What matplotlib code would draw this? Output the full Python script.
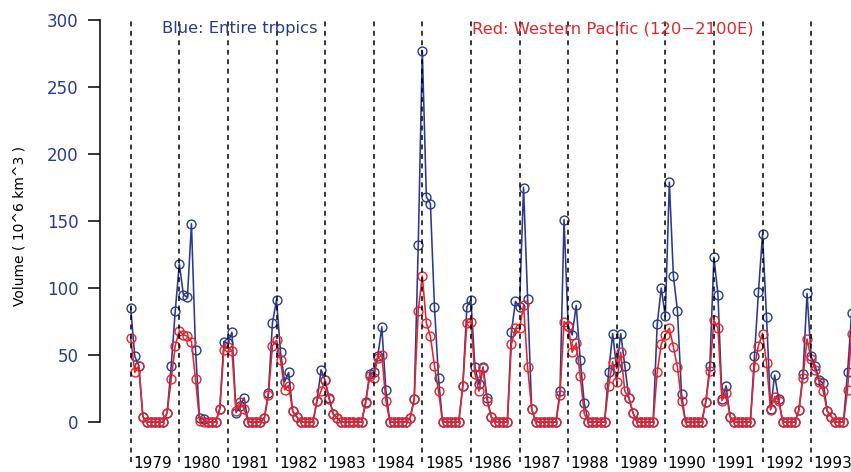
import matplotlib

matplotlib.use("Agg")
import matplotlib.pyplot as plt  # noqa: E402
import numpy as np  # noqa: E402

START_YEAR = 1979

# monthly volume (10^6 km^3), Jan 1979 onwards
blue_tropics = [
    85, 49, 42, 4, 0, 0, 0, 0, 0, 7, 42, 83,
    118, 95, 93, 148, 54, 3, 2, 0, 0, 0, 10, 60,
    59, 67, 7, 12, 18, 0, 0, 0, 0, 3, 22, 74,
    91, 52, 30, 37, 8, 4, 0, 0, 0, 0, 16, 39,
    31, 18, 6, 3, 0, 0, 0, 0, 0, 0, 15, 36,
    37, 49, 71, 24, 0, 0, 0, 0, 0, 3, 17, 132,
    277, 168, 163, 86, 33, 0, 0, 0, 0, 0, 27, 86,
    91, 41, 28, 41, 18, 4, 0, 0, 0, 0, 67, 90,
    86, 175, 92, 10, 0, 0, 0, 0, 0, 0, 23, 151,
    72, 65, 87, 46, 14, 0, 0, 0, 0, 0, 37, 66,
    40, 66, 42, 18, 7, 0, 0, 0, 0, 0, 73, 100,
    79, 179, 109, 83, 21, 0, 0, 0, 0, 0, 15, 42,
    123, 95, 17, 27, 4, 0, 0, 0, 0, 0, 49, 97,
    140, 78, 10, 35, 17, 0, 0, 0, 0, 9, 36, 96,
    49, 42, 31, 29, 8, 4, 0, 0, 0, 37, 81,
]
red_wpac = [
    63, 37, 42, 4, 0, 0, 0, 0, 0, 7, 32, 57,
    68, 65, 64, 60, 32, 1, 0, 0, 0, 0, 10, 54,
    56, 53, 8, 15, 10, 0, 0, 0, 0, 3, 20, 57,
    61, 46, 24, 27, 8, 4, 0, 0, 0, 0, 16, 23,
    31, 17, 6, 3, 0, 0, 0, 0, 0, 0, 14, 34,
    33, 48, 50, 16, 0, 0, 0, 0, 0, 3, 17, 83,
    109, 74, 64, 42, 23, 0, 0, 0, 0, 0, 27, 74,
    75, 36, 23, 40, 16, 4, 0, 0, 0, 0, 58, 70,
    70, 87, 41, 10, 0, 0, 0, 0, 0, 0, 20, 75,
    72, 52, 59, 34, 6, 0, 0, 0, 0, 0, 27, 45,
    30, 52, 23, 18, 7, 0, 0, 0, 0, 0, 37, 58,
    65, 70, 56, 41, 16, 0, 0, 0, 0, 0, 15, 38,
    76, 70, 16, 22, 4, 0, 0, 0, 0, 0, 41, 57,
    66, 44, 9, 19, 16, 0, 0, 0, 0, 9, 33, 62,
    47, 39, 30, 23, 8, 4, 0, 0, 0, 24, 66,
]
years = list(range(1979, 1994))
yticks = [0, 50, 100, 150, 200, 250, 300]

BLUE = "#2a3a8f"
RED = "#e2252e"

t = START_YEAR + np.arange(len(blue_tropics)) / 12

fig = plt.figure(figsize=(8.51, 4.72), dpi=100)
ax = fig.add_axes([100 / 851, 0, 751 / 851, 1])
ax.set_xlim(1978.368, 1993.821)
ax.set_ylim(-37.31, 314.93)

mk = dict(marker="o", ms=6.4, mfc="none", mew=1.0, lw=1.15)
ax.plot(t, blue_tropics, color=BLUE, **mk)
ax.plot(t, red_wpac, color=RED, **mk)
ax.vlines(years, -30, 300, colors="k", linestyles=(0, (3.2, 3.0)), lw=1.1, zorder=3)

for y in years:
    ax.text(y + 0.45, -31, str(y), ha="center", va="center", fontsize=11)

ax.text(1981.25, 293.3, "Blue: Entire tropics", color=BLUE, fontsize=11.8,
        ha="center", va="center")
ax.text(1988.93, 293.3, "Red: Western Pacific (120\u22122100E)", color=RED, fontsize=11.8,
        ha="center", va="center")

for s in ("top", "right", "bottom"):
    ax.spines[s].set_visible(False)
ax.spines["left"].set_bounds(0, 300)
ax.spines["left"].set_linewidth(1.1)
ax.set_xticks([])
ax.set_yticks(yticks)
ax.tick_params(axis="y", length=8.6, width=1.1, pad=7, labelsize=12, labelcolor=BLUE)

fig.text(20 / 851, 1 - 226.5 / 472, "Volume ( 10^6 km^3 )", rotation=90,
         ha="center", va="center", fontsize=10)

fig.savefig("out.png", dpi=100)
